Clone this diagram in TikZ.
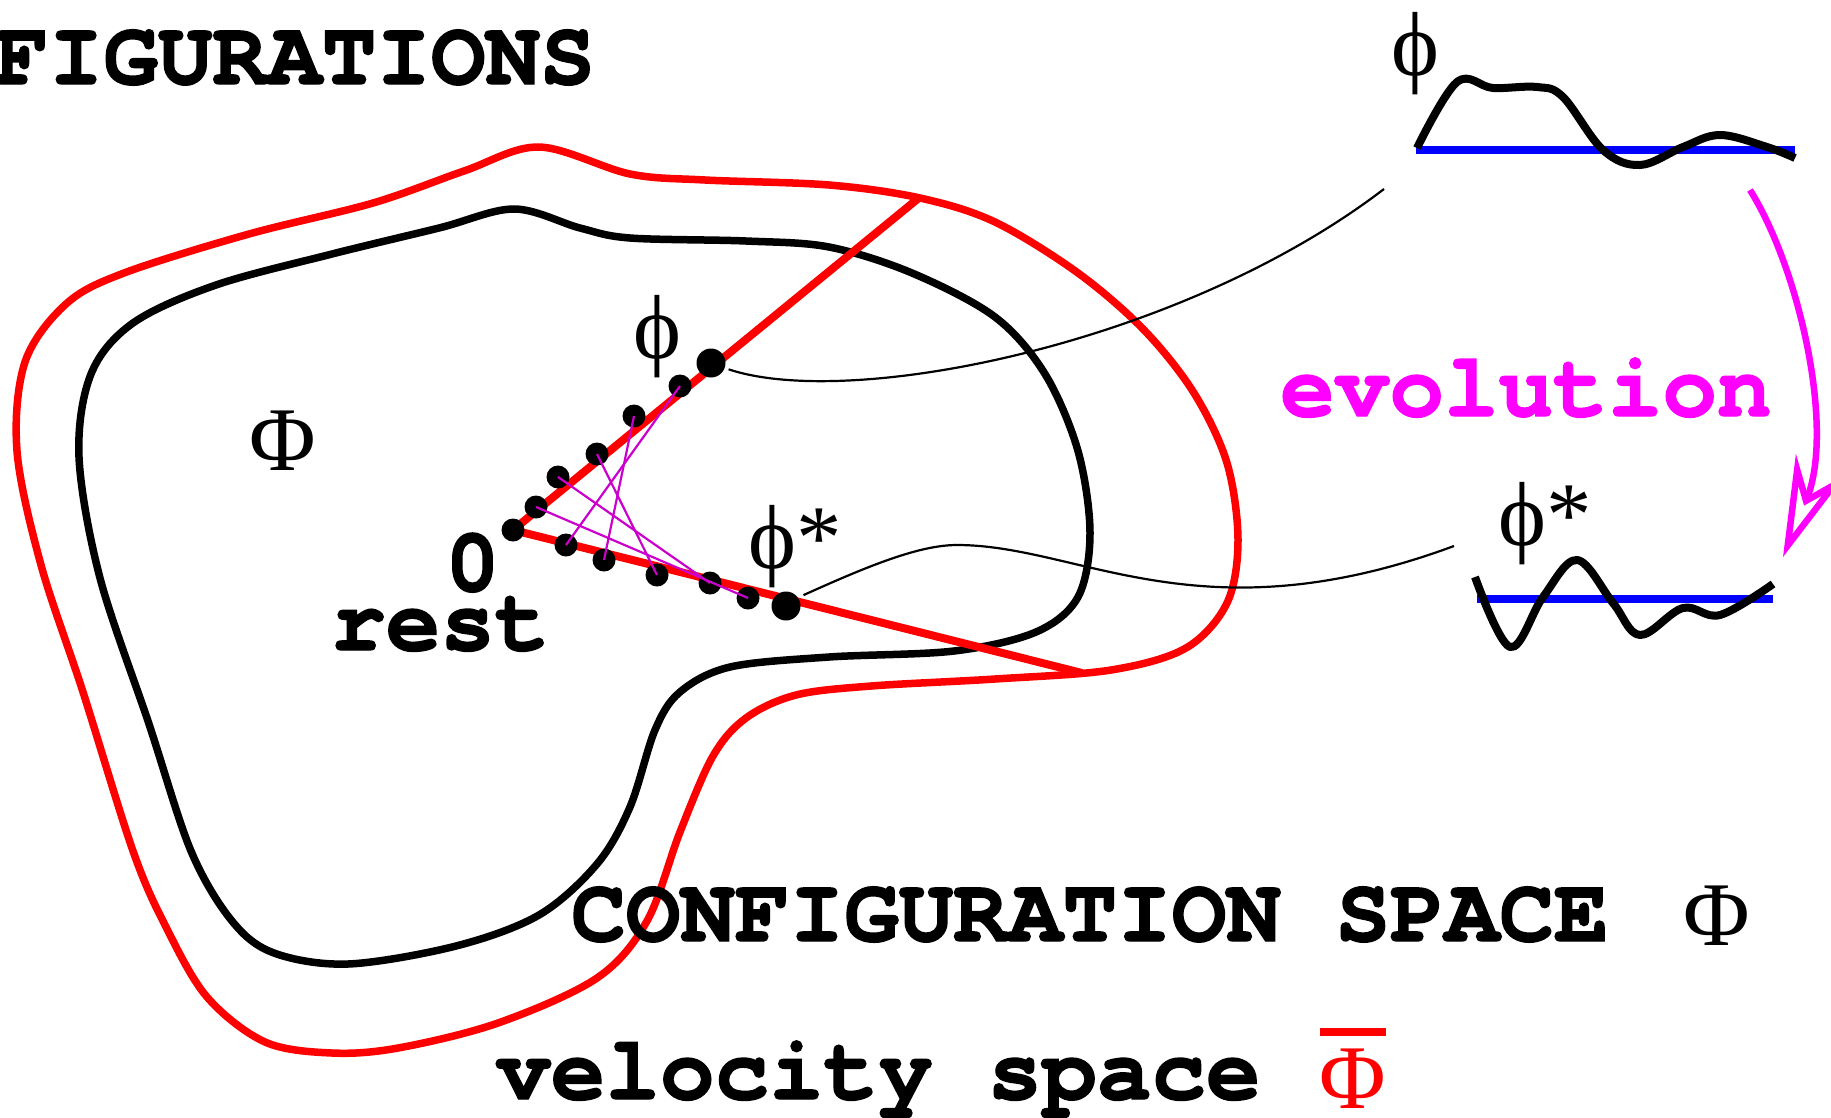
\documentclass[tikz,border=0pt]{standalone}
\usepackage{fontspec}
\setmonofont{TeX Gyre Cursor}[BoldFeatures={FakeBold=1.6}]
\newfontfamily\grk{Liberation Serif}
\usepackage{xcolor}
\usepackage{tikz}
\usetikzlibrary{arrows.meta,positioning}
\definecolor{evo}{RGB}{255,0,255}
\definecolor{pairpurple}{RGB}{204,0,204}
\definecolor{fieldblue}{RGB}{0,0,255}
\newcommand{\bigtt}{\fontsize{91}{100}\selectfont\ttfamily\bfseries}
\newcommand{\biggrk}{\fontsize{91}{100}\selectfont\grk}
\newcommand{\barred}[1]{\vbox{\hrule height 8pt\kern 12pt\hbox{#1}}}

\begin{document}
\begin{tikzpicture}[x=1pt,y=-1pt,
  word/.style={inner sep=0pt,anchor=base west,font=\bigtt},
  greek/.style={inner sep=0pt,anchor=base,font=\biggrk},
  bead/.style={circle,fill=black,inner sep=0pt,minimum size=23pt},
  bigbead/.style={bead,minimum size=29pt},
  ray/.style={red,line width=8pt},
  rim/.style={line width=7.5pt,line join=round},
  pairline/.style={pairpurple,line width=2.2pt},
  link/.style={line width=2.2pt},
  axis/.style={fieldblue,line width=8pt},
  wave/.style={line width=8pt,line join=round},
  evoarrow/.style={evo,line width=6.5pt,
    -{Stealth[open,length=100pt,width=54pt,inset=34pt]}}]
\useasboundingbox (0,0) rectangle (1831,1117);

% velocity space (red) and configuration space (black)
\draw[rim,red] plot[smooth cycle,tension=0.55] coordinates {
  (539,147) (630,174) (705,180) (829,185) (920,198) (995,222) (1078,273)
  (1144,330) (1194,393) (1227,463) (1238,540) (1227,603) (1186,648)
  (1111,670) (995,679) (871,686) (796,695) (746,718) (713,756) (680,832)
  (647,921) (597,978) (498,1023) (398,1048) (332,1053) (265,1042)
  (207,997) (166,927) (133,851) (83,692) (41,565) (17,451) (25,362)
  (66,304) (124,273) (249,234) (373,203) (464,171)};
\draw[rim] plot[smooth cycle,tension=0.55] coordinates {
  (514,209) (580,228) (630,238) (746,241) (829,247) (912,273) (995,317)
  (1045,374) (1078,451) (1090,533) (1078,597) (1036,632) (954,651)
  (829,657) (730,667) (680,692) (655,730) (630,807) (597,864) (539,915)
  (456,946) (348,964) (274,953) (232,921) (191,851) (149,724) (100,578)
  (79,457) (91,374) (133,323) (216,285) (332,254) (439,228)};

% rays from rest
\coordinate (origin) at (513,530);
\coordinate (upend) at (920,197);
\coordinate (lowend) at (1082,673);
\draw[ray] (origin) -- (upend);
\draw[ray] (origin) -- (lowend);

\node[bead] (o) at (origin) {};
\node[bead] (u1) at (536,507) {};
\node[bead] (u2) at (558,477) {};
\node[bead] (u3) at (597,454) {};
\node[bead] (u4) at (634,416) {};
\node[bead] (u5) at (680,386) {};
\node[bigbead] (phidot) at (711,363) {};
\node[bead] (l1) at (566,545) {};
\node[bead] (l2) at (604,560) {};
\node[bead] (l3) at (657,575) {};
\node[bead] (l4) at (710,583) {};
\node[bead] (l5) at (748,598) {};
\node[bigbead] (stardot) at (786,606) {};

\draw[pairline] (u5.center) -- (l1.center);
\draw[pairline] (u4.center) -- (l2.center);
\draw[pairline] (u3.center) -- (l3.center);
\draw[pairline] (u2.center) -- (l4.center);
\draw[pairline] (u1.center) -- (l5.center);

% labels
\node[word] (figs) at (-6,84) {FIGURATIONS};
\node[greek] (bigphi) at (283,470) {Φ};
\node[word] (zero) at (445,591) {0};
\node[word] (rest) at (331,650) {rest};
\node[greek,anchor=base west] (philbl) at (633,358) {ϕ};
\node[greek,anchor=base west] (starlbl) at (748,568) {ϕ*};
\node[word] (config) at (571,941) {CONFIGURATION SPACE};
\node[greek] (cfgphi) at (1717,945) {Φ};
\node[word] (velo) at (496,1099) {velocity space};
\node[greek,red,text depth=0pt] (velphi) at (1353,1108) {\barred{Φ}};
\node[word,evo] (evolbl) at (1280,416) {evolution};

% field profiles
\node[greek,anchor=base west] (topphi) at (1391,75) {ϕ};
\draw[axis] (1416,150) -- (1795,150);
\draw[wave] plot[smooth,tension=0.6] coordinates {
  (1417,148) (1457,82) (1493,88) (1537,87) (1563,97) (1603,150)
  (1640,165) (1683,147) (1720,135) (1767,147) (1795,158)};
\node[greek,anchor=base west] (topstar) at (1498,545) {ϕ*};
\draw[axis] (1477,599) -- (1773,599);
\draw[wave] plot[smooth,tension=0.6] coordinates {
  (1475,577) (1510,647) (1543,597) (1577,560) (1613,603) (1640,635)
  (1683,608) (1720,615) (1773,584)};

% links to the profiles
\coordinate (topend) at (1384,189);
\coordinate (starend) at (1454,546);
\draw[link,shorten <=4pt] (phidot.-20) .. controls (850,410) and (1180,345) .. (topend);
\draw[link,shorten <=6pt] (stardot.35) .. controls (870,565) and (920,545) .. (957,545)
  .. controls (1080,545) and (1200,640) .. (starend);

\coordinate (evostart) at (1750,190);
\coordinate (evotip) at (1783,557);
\draw[evoarrow] (evostart) .. controls (1800,270) and (1835,430) .. (evotip);
\end{tikzpicture}
\end{document}
